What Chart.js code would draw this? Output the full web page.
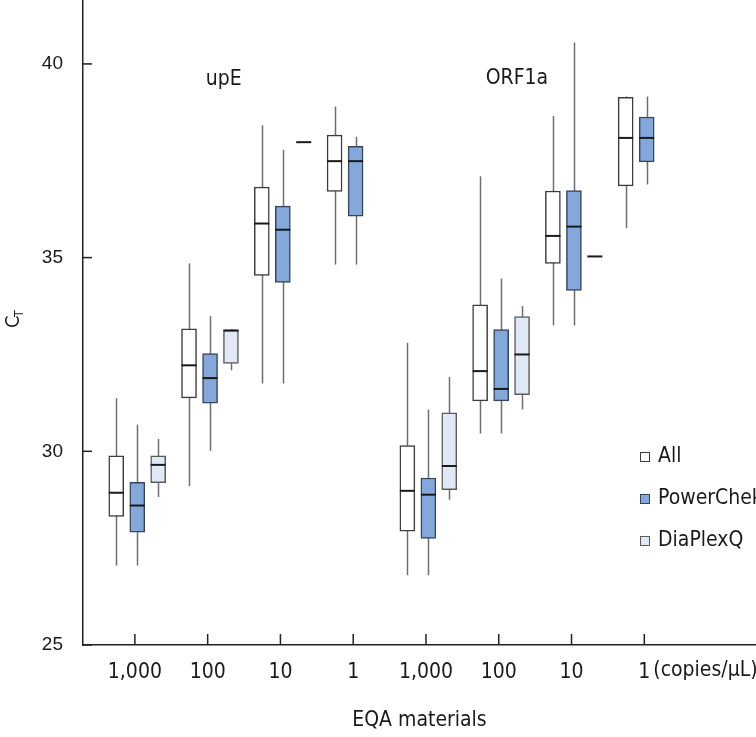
<!DOCTYPE html>
<html>
<head>
<meta charset="utf-8">
<script src="https://cdn.jsdelivr.net/npm/chart.js@4"></script>
<style>
  body { margin: 0; background: #fff; }
  canvas { display: block; }
</style>
</head>
<body>
<canvas id="ctChart" width="756" height="737"></canvas>
<script>
// EQA material concentrations (upE then ORF1a)
const categories = ['1,000', '100', '10', '1', '1,000', '100', '10', '1'];
const seriesNames = ['All', 'PowerChek', 'DiaPlexQ'];
const yTicks = [25, 30, 35, 40];

// box plot values per series: min, q1, median, q3, max
const allMin = [27.05, 29.10, 31.75, 34.82, 26.80, 30.46, 33.25, 35.76];
const allQ1  = [28.32, 31.38, 34.54, 36.71, 27.94, 31.30, 34.85, 36.85];
const allMed = [28.93, 32.22, 35.88, 37.49, 28.98, 32.07, 35.56, 38.09];
const allQ3  = [29.88, 33.16, 36.82, 38.16, 30.15, 33.78, 36.72, 39.14];
const allMax = [31.37, 34.85, 38.42, 38.90, 32.80, 37.10, 38.66, 39.16];

const pcMin = [27.05, 30.01, 31.75, 34.82, 26.80, 30.46, 33.25, 36.89];
const pcQ1  = [27.91, 31.24, 34.36, 36.07, 27.75, 31.30, 34.15, 37.47];
const pcMed = [28.60, 31.89, 35.72, 37.49, 28.88, 31.61, 35.80, 38.09];
const pcQ3  = [29.20, 32.52, 36.33, 37.87, 29.31, 33.14, 36.73, 38.63];
const pcMax = [30.69, 33.49, 37.78, 38.12, 31.08, 34.46, 40.55, 39.16];

const dqMin = [28.82, 32.09, 37.98, null, 28.75, 31.08, 35.03, null];
const dqQ1  = [29.19, 32.27, 37.98, null, 29.01, 31.46, 35.03, null];
const dqMed = [29.65, 33.12, 37.98, null, 29.62, 32.50, 35.03, null];
const dqQ3  = [29.88, 33.12, 37.98, null, 30.99, 33.48, 35.03, null];
const dqMax = [30.32, 33.15, 37.98, null, 31.92, 33.75, 35.03, null];

// target gene labels, placed in data coordinates
const geneLabels = ['upE', 'ORF1a'];
const geneLabelX = [2.22, 6.25];
const geneLabelY = [39.6, 39.62];

const stats = [
  { min: allMin, q1: allQ1, med: allMed, q3: allQ3, max: allMax },
  { min: pcMin, q1: pcQ1, med: pcMed, q3: pcQ3, max: pcMax },
  { min: dqMin, q1: dqQ1, med: dqMed, q3: dqQ3, max: dqMax }
];
const offsets = [-0.256, 0.033, 0.32];
const fills = ['#ffffff', '#84a8da', '#e2e9f6'];
const borders = ['#3d3d3d', '#37455a', '#5a5a5a'];

const narrow = '"Liberation Sans Narrow", "Arial Narrow", "DejaVu Sans Condensed", sans-serif';
const regular = '"Liberation Sans", Arial, sans-serif';

const datasets = stats.map((s, k) => ({
  label: seriesNames[k],
  data: categories
    .map((c, i) => (s.q1[i] == null ? null : { x: i + 1 + offsets[k], y: [s.q1[i], s.q3[i]] }))
    .filter(p => p !== null),
  backgroundColor: fills[k],
  borderColor: borders[k],
  borderWidth: 1.5,
  borderSkipped: false,
  barThickness: 15,
  grouped: false
}));

const boxPlugin = {
  id: 'boxParts',
  beforeDatasetsDraw(chart) {
    const { ctx, scales: { x, y } } = chart;
    ctx.save();
    ctx.strokeStyle = '#6e6e6e';
    ctx.lineWidth = 1.5;
    stats.forEach((s, k) => {
      categories.forEach((c, i) => {
        if (s.min[i] == null) return;
        const px = Math.round(x.getPixelForValue(i + 1 + offsets[k])) + 0.5;
        ctx.beginPath();
        ctx.moveTo(px, y.getPixelForValue(s.min[i]));
        ctx.lineTo(px, y.getPixelForValue(s.max[i]));
        ctx.stroke();
      });
    });
    ctx.restore();
  },
  afterDatasetsDraw(chart) {
    const { ctx, scales: { x, y }, chartArea } = chart;
    ctx.save();
    // medians
    ctx.strokeStyle = '#1a1a1a';
    ctx.lineWidth = 2;
    stats.forEach((s, k) => {
      categories.forEach((c, i) => {
        if (s.med[i] == null) return;
        const px = x.getPixelForValue(i + 1 + offsets[k]);
        const py = y.getPixelForValue(s.med[i]);
        ctx.beginPath();
        ctx.moveTo(px - 7.5, py);
        ctx.lineTo(px + 7.5, py);
        ctx.stroke();
      });
    });
    // inward tick marks
    ctx.strokeStyle = '#222';
    ctx.lineWidth = 1.5;
    yTicks.forEach(v => {
      const py = y.getPixelForValue(v);
      ctx.beginPath();
      ctx.moveTo(chartArea.left, py);
      ctx.lineTo(chartArea.left + 9, py);
      ctx.stroke();
    });
    categories.forEach((c, i) => {
      const px = x.getPixelForValue(i + 1);
      ctx.beginPath();
      ctx.moveTo(px, chartArea.bottom);
      ctx.lineTo(px, chartArea.bottom - 11);
      ctx.stroke();
    });
    // gene labels
    ctx.fillStyle = '#1a1a1a';
    ctx.font = '21px ' + narrow;
    ctx.textAlign = 'center';
    ctx.textBaseline = 'middle';
    geneLabels.forEach((t, i) => {
      ctx.fillText(t, x.getPixelForValue(geneLabelX[i]), y.getPixelForValue(geneLabelY[i]));
    });
    // unit after last tick label
    ctx.textAlign = 'left';
    ctx.fillText('(copies/\u00b5L)', x.getPixelForValue(categories.length) + 9, chartArea.bottom + 26);
    // legend
    seriesNames.forEach((name, k) => {
      const ly = 457 + k * 42;
      ctx.fillStyle = fills[k];
      ctx.fillRect(640, ly - 5, 10, 10);
      ctx.strokeStyle = borders[k];
      ctx.lineWidth = 1;
      ctx.strokeRect(640.5, ly - 4.5, 9, 9);
      ctx.fillStyle = '#1a1a1a';
      ctx.fillText(name, 658, ly);
    });
    // y axis title C_T
    ctx.translate(14, 320);
    ctx.rotate(-Math.PI / 2);
    ctx.font = '20px ' + narrow;
    ctx.textAlign = 'left';
    ctx.fillText('C', -8, 0);
    ctx.font = '12px ' + narrow;
    ctx.fillText('T', 3, 6);
    ctx.restore();
  }
};

new Chart(document.getElementById('ctChart'), {
  type: 'bar',
  data: { datasets },
  options: {
    responsive: false,
    animation: false,
    devicePixelRatio: 1,
    layout: { padding: 0 },
    plugins: { legend: { display: false }, tooltip: { enabled: false } },
    scales: {
      x: {
        type: 'linear',
        offset: false,
        min: 0.287,
        max: 9.535,
        afterBuildTicks: s => { s.ticks = categories.map((c, i) => ({ value: i + 1 })); },
        afterFit: s => { s.height = 92; s.paddingLeft = 0; s.paddingRight = 0; },
        grid: { display: false, drawTicks: false },
        border: { color: '#222', width: 1.5 },
        ticks: {
          autoSkip: false,
          maxRotation: 0,
          padding: 15,
          color: '#1a1a1a',
          font: { family: narrow, size: 21 },
          callback: v => categories[v - 1]
        },
        title: {
          display: true,
          text: 'EQA materials',
          color: '#1a1a1a',
          font: { family: narrow, size: 21 },
          padding: { top: 14, bottom: 4 }
        }
      },
      y: {
        min: 25,
        max: 41.65,
        afterBuildTicks: s => { s.ticks = yTicks.map(v => ({ value: v })); },
        afterFit: s => { s.width = 83; s.paddingTop = 0; s.paddingBottom = 0; },
        grid: { display: false, drawTicks: false },
        border: { color: '#222', width: 1.5 },
        ticks: {
          padding: 20,
          color: '#1a1a1a',
          font: { family: regular, size: 19 }
        }
      }
    }
  },
  plugins: [boxPlugin]
});
</script>
</body>
</html>
